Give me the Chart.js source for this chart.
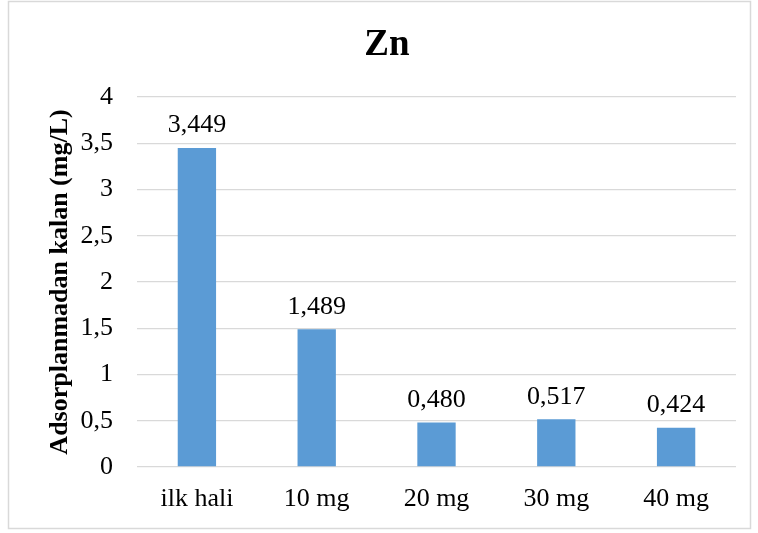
<!DOCTYPE html>
<html>
<head>
<meta charset="utf-8">
<script src="https://cdn.jsdelivr.net/npm/chart.js@4"></script>
<style>
  html, body { margin: 0; padding: 0; background: #fff; }
  #wrap { width: 758px; height: 533px; position: relative; }
</style>
</head>
<body>
<div id="wrap"><canvas id="c" width="758" height="533"></canvas></div>
<script>
// Remaining Zn concentration after adsorption
const categories = ['ilk hali', '10 mg', '20 mg', '30 mg', '40 mg'];
const remainingZn = [3.449, 1.489, 0.480, 0.517, 0.424];
const yTicks = [0, 0.5, 1, 1.5, 2, 2.5, 3, 3.5, 4];
const chartTitle = 'Zn';

const serif = '"Liberation Serif", "Times New Roman", serif';
const comma = v => String(v).replace('.', ',');

// Outer frame and the title, centred over the whole frame
const framePlugin = {
  id: 'frame',
  beforeDraw(chart) {
    const ctx = chart.ctx;
    ctx.save();
    ctx.fillStyle = '#fff';
    ctx.fillRect(0, 0, chart.width, chart.height);
    ctx.strokeStyle = '#d9d9d9';
    ctx.lineWidth = 1.5;
    ctx.strokeRect(8.5, 1.5, 742, 527);
    ctx.font = 'bold 37px ' + serif;
    ctx.fillStyle = '#000';
    ctx.textAlign = 'center';
    ctx.textBaseline = 'alphabetic';
    ctx.fillText(chartTitle, 387, 55);
    ctx.restore();
  }
};

// Value labels above each bar, using decimal comma
const valueLabels = {
  id: 'valueLabels',
  afterDatasetsDraw(chart) {
    const ctx = chart.ctx;
    const meta = chart.getDatasetMeta(0);
    const data = chart.data.datasets[0].data;
    ctx.save();
    ctx.font = '26px ' + serif;
    ctx.fillStyle = '#000';
    ctx.textAlign = 'center';
    ctx.textBaseline = 'alphabetic';
    meta.data.forEach((bar, i) => {
      ctx.fillText(data[i].toFixed(3).replace('.', ','), bar.x, bar.y - 15.5);
    });
    ctx.restore();
  }
};

new Chart(document.getElementById('c'), {
  type: 'bar',
  data: {
    labels: categories,
    datasets: [{
      data: remainingZn,
      backgroundColor: '#5b9bd5',
      borderWidth: 0,
      categoryPercentage: 1,
      barPercentage: 0.32
    }]
  },
  options: {
    responsive: false,
    animation: false,
    devicePixelRatio: 1,
    layout: { padding: { left: 0, right: 22, top: 97, bottom: 0 } },
    plugins: {
      legend: { display: false },
      tooltip: { enabled: false },
      title: { display: false }
    },
    scales: {
      x: {
        grid: { display: false, drawTicks: false },
        border: { display: false },
        ticks: {
          color: '#000',
          font: { family: serif, size: 26 },
          padding: 17,
          maxRotation: 0
        },
        afterFit(scale) { scale.height = 66; }
      },
      y: {
        min: 0,
        max: 4,
        afterBuildTicks(scale) { scale.ticks = yTicks.map(v => ({ value: v })); },
        grid: { color: '#d9d9d9', lineWidth: 1.3, drawTicks: false },
        border: { display: false },
        ticks: {
          color: '#000',
          font: { family: serif, size: 26 },
          padding: 24,
          callback: v => comma(v)
        },
        title: {
          display: true,
          text: 'Adsorplanmadan kalan (mg/L)',
          color: '#000',
          font: { family: serif, size: 26, weight: 'bold', lineHeight: 1.2 },
          padding: { top: 44.4, bottom: 0 }
        },
        afterFit(scale) { scale.width = 137; }
      }
    }
  },
  plugins: [framePlugin, valueLabels]
});
</script>
</body>
</html>
